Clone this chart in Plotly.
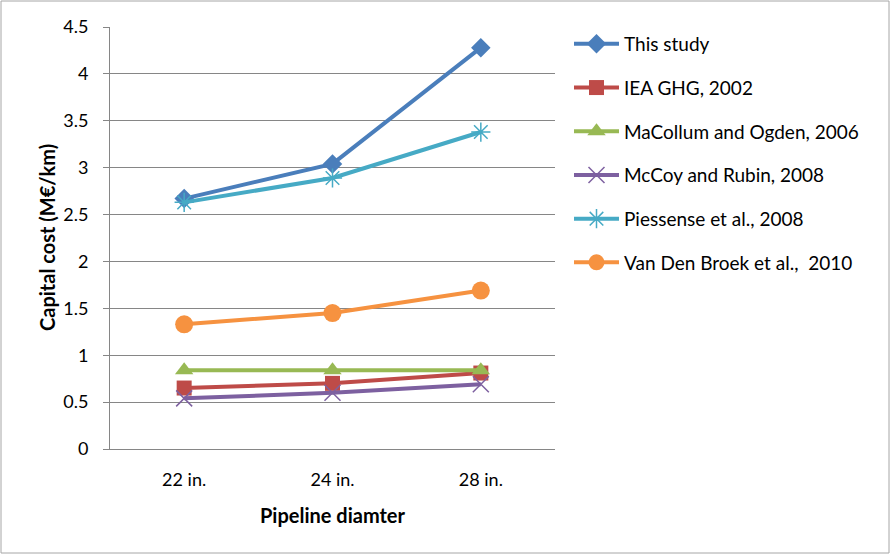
import plotly.graph_objects as go

categories = ["22 in.", "24 in.", "28 in."]
series_names = ["This study", "IEA GHG, 2002", "MaCollum and Ogden, 2006",
                "McCoy and Rubin, 2008", "Piessense et al., 2008", "Van Den Broek et al.,  2010"]
this_study = [2.67, 3.04, 4.28]
iea_ghg = [0.65, 0.70, 0.81]
macollum = [0.84, 0.84, 0.84]
mccoy = [0.54, 0.60, 0.69]
piessense = [2.63, 2.89, 3.38]
van_den_broek = [1.33, 1.45, 1.69]
y_ticks = [0, 0.5, 1, 1.5, 2, 2.5, 3, 3.5, 4, 4.5]

values = [this_study, iea_ghg, macollum, mccoy, piessense, van_den_broek]
colors = ["#4A7EBB", "#BE4B48", "#98B954", "#7D60A0", "#46AAC5", "#F69240"]
symbols = ["diamond", "square", "triangle-up", "x-thin-open", "asterisk-open", "circle"]
sizes = [15, 15, 16, 16, 16, 18]

fig = go.Figure()
# empty helper trace so the tick-mark-only overlay axis is drawn
fig.add_trace(go.Scatter(x=[], y=[], yaxis="y2", showlegend=False, hoverinfo="skip"))
for i, (name, vals) in enumerate(zip(series_names, values)):
    fig.add_trace(go.Scatter(
        x=categories, y=vals, name=name, mode="lines+markers",
        line=dict(color=colors[i], width=4),
        marker=dict(symbol=symbols[i], size=sizes[i], color=colors[i],
                    line=dict(color=colors[i], width=1.5 if i in (3, 4) else 0)),
        legendgroup=str(i),
    ))

L, R, T, B = 110, 555, 27, 449
W, H = 891, 555
pw, ph = R - L, B - T

def px(x):
    return (x - L) / pw

def py(y):
    return (B - y) / ph

fig.update_layout(
    width=W, height=H,
    margin=dict(l=L, r=W - R, t=T, b=H - B),
    paper_bgcolor="white", plot_bgcolor="white",
    font=dict(family="Lato, Carlito, Calibri, sans-serif", size=18, color="black"),
    showlegend=True,
    legend=dict(xref="container", yref="container", x=569 / W, y=1 - 25 / H,
                xanchor="left", yanchor="top", tracegroupgap=16, itemwidth=45,
                font=dict(size=19), bgcolor="rgba(0,0,0,0)"),
    xaxis=dict(type="category", range=[-0.5, 2.5], showgrid=False,
               showline=True, linecolor="#868686", linewidth=1,
               ticks="", tickfont=dict(size=18), ticklabelstandoff=14,
               title=dict(text="<b>Pipeline diamter</b>", font=dict(size=20), standoff=20)),
    yaxis=dict(range=[0, 4.5], tickvals=y_ticks,
               ticktext=[f"{v:g}" for v in y_ticks],
               showgrid=True, gridcolor="#868686", gridwidth=1,
               showline=True, linecolor="#868686", linewidth=1,
               ticks="outside", ticklen=17, tickcolor="rgba(0,0,0,0)",
               tickfont=dict(size=18), zeroline=False),
    yaxis2=dict(range=[0, 4.5], overlaying="y", side="left", tickvals=y_ticks,
                showticklabels=False, showgrid=False, zeroline=False, showline=False,
                ticks="outside", ticklen=6, tickcolor="#868686", tickwidth=1),
    annotations=[dict(text="<b>Capital cost (M€/km)</b>", textangle=-90,
                      xref="paper", yref="paper", x=px(47), y=py(238),
                      xanchor="center", yanchor="middle", showarrow=False,
                      font=dict(size=20))],
    shapes=[dict(type="rect", xref="paper", yref="paper",
                 x0=px(1), x1=px(889), y0=py(553), y1=py(1),
                 line=dict(color="#A6A6A6", width=1), fillcolor="rgba(0,0,0,0)", layer="below")],
)

fig.write_html("out.html")
